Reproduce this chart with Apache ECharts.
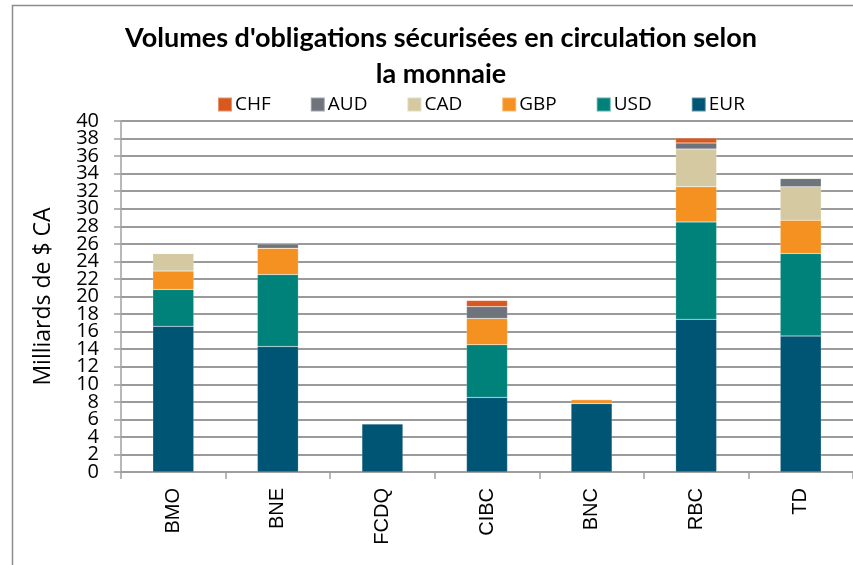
<!DOCTYPE html>
<html>
<head>
<meta charset="utf-8">
<script src="https://cdn.jsdelivr.net/npm/echarts@6/dist/echarts.min.js"></script>
<style>
  html, body { margin: 0; padding: 0; background: #fff; }
  #chart { width: 853px; height: 565px; }
</style>
</head>
<body>
<div id="chart"></div>
<script>
  // banques
  const banques = ['BMO', 'BNE', 'FCDQ', 'CIBC', 'BNC', 'RBC', 'TD'];
  // milliards de $ CA par monnaie
  const eur = [16.6, 14.3, 5.5, 8.5, 7.8, 17.4, 15.5];
  const usd = [4.2, 8.2, 0, 6.0, 0, 11.1, 9.4];
  const gbp = [2.1, 3.0, 0, 3.0, 0.45, 4.0, 3.8];
  const cad = [2.0, 0, 0, 0, 0, 4.3, 3.8];
  const aud = [0, 0.5, 0, 1.35, 0, 0.7, 0.95];
  const chf = [0, 0, 0, 0.7, 0, 0.55, 0];
  const yTicks = { min: 0, max: 40, step: 2 };

  const couleurs = {
    EUR: '#005574',
    USD: '#00827a',
    GBP: '#f59120',
    CAD: '#d4c9a0',
    AUD: '#6f737c',
    CHF: '#d9581f'
  };

  const pile = [['EUR', eur], ['USD', usd], ['GBP', gbp], ['CAD', cad], ['AUD', aud], ['CHF', chf]];

  // les étiquettes de l'axe sont serrées : on les répartit sur deux axes superposés
  // pour éviter que ECharts en masque certaines
  function axeY(pair, principal) {
    return {
      type: 'value',
      position: 'left',
      offset: 0,
      min: yTicks.min,
      max: yTicks.max,
      interval: yTicks.step,
      name: principal ? 'Milliards de $ CA' : '',
      nameLocation: 'middle',
      nameGap: 66,
      nameTextStyle: { fontFamily: 'Open Sans', fontSize: 23, color: '#000' },
      axisLine: { show: principal, lineStyle: { color: '#a0a0a0', width: 1.5 } },
      axisTick: { show: principal, length: 7, lineStyle: { color: '#a0a0a0', width: 1.5 } },
      axisLabel: {
        showMinLabel: true,
        showMaxLabel: true,
        margin: 22,
        fontFamily: 'Open Sans',
        fontSize: 20,
        color: '#000',
        formatter: v => ((v / yTicks.step) % 2 === (pair ? 0 : 1) ? String(v) : '')
      },
      splitLine: { show: principal, lineStyle: { color: '#9a9a9a', width: 2 } }
    };
  }

  const chart = echarts.init(document.getElementById('chart'));
  chart.setOption({
    animation: false,
    graphic: [{
      type: 'rect',
      shape: { x: 12.5, y: 5.5, width: 900, height: 600 },
      style: { fill: 'none', stroke: '#8c8c8c', lineWidth: 1.5 },
      silent: true
    }],
    title: {
      text: "Volumes d'obligations sécurisées en circulation selon\nla monnaie",
      left: 436,
      textAlign: 'center',
      top: 15,
      textStyle: {
        fontFamily: 'Lato',
        fontWeight: 'bold',
        fontSize: 27,
        lineHeight: 36,
        color: '#000'
      }
    },
    legend: {
      data: ['CHF', 'AUD', 'CAD', 'GBP', 'USD', 'EUR'],
      left: 212,
      top: 90,
      itemWidth: 14,
      itemHeight: 14,
      itemGap: 39,
      icon: 'rect',
      textStyle: { fontFamily: 'Open Sans', fontSize: 19, color: '#000', padding: [0, 0, 0, -2] }
    },
    grid: {
      left: 121,
      right: 0,
      top: 121,
      bottom: 93,
      containLabel: false
    },
    xAxis: {
      type: 'category',
      data: banques,
      axisLine: { show: true, lineStyle: { color: '#a0a0a0', width: 1.5 } },
      axisTick: { show: true, length: 7, lineStyle: { color: '#a0a0a0', width: 1.5 } },
      axisLabel: {
        rotate: 90,
        margin: 16,
        fontFamily: 'Liberation Sans',
        fontSize: 20,
        color: '#000'
      },
      splitLine: { show: false }
    },
    yAxis: [axeY(true, true), axeY(false, false)],
    series: pile.map(([nom, valeurs]) => ({
      name: nom,
      type: 'bar',
      stack: 'total',
      barWidth: 41,
      data: valeurs,
      itemStyle: {
        color: couleurs[nom],
        borderColor: 'rgba(255,255,255,0.35)',
        borderWidth: 0.5
      }
    }))
  });
</script>
</body>
</html>
